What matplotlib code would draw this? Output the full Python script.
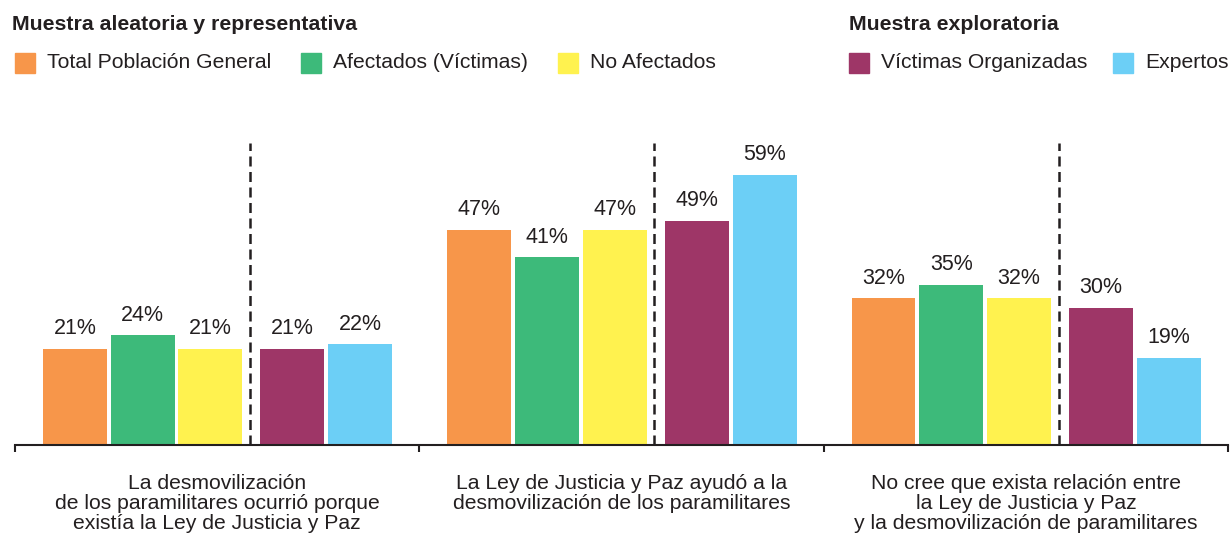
import matplotlib
matplotlib.use('Agg')
import matplotlib.pyplot as plt
from matplotlib.patches import Rectangle
import numpy as np

plt.rcParams['font.family'] = ['Liberation Sans', 'DejaVu Sans']

categories = [
    'La desmovilización\nde los paramilitares ocurrió porque\nexistía la Ley de Justicia y Paz',
    'La Ley de Justicia y Paz ayudó a la\ndesmovilización de los paramilitares',
    'No cree que exista relación entre\nla Ley de Justicia y Paz\ny la desmovilización de paramilitares',
]
series = ['Total Población General', 'Afectados (Víctimas)', 'No Afectados',
          'Víctimas Organizadas', 'Expertos']
total_general = [21, 47, 32]
afectados = [24, 41, 35]
no_afectados = [21, 47, 32]
victimas_org = [21, 49, 30]
expertos = [22, 59, 19]
values = [total_general, afectados, no_afectados, victimas_org, expertos]
colors = ['#F7964A', '#3DBA7A', '#FFF24F', '#9E3667', '#6CCFF6']
text_color = '#231F20'

W, H = 1230, 534
fig = plt.figure(figsize=(W / 100, H / 100), dpi=100)
px_per_pct = 4.58
ax = fig.add_axes([15 / W, (H - 445) / H, 1213 / W, 302 / H])
ymax = 302 / px_per_pct

x = np.arange(len(categories))
offsets = [-0.352, -0.184, -0.017, 0.186, 0.354]
width = 0.158
for i in range(len(series)):
    ax.bar(x + offsets[i], values[i], width=width, color=colors[i])
    for xi, v in zip(x, values[i]):
        ax.text(xi + offsets[i], v + 14.5 / px_per_pct, f'{v}%', ha='center',
                va='baseline', fontsize=15.5, color=text_color)

# separador entre muestras
ax.vlines(x + 0.081, 0, ymax, colors=text_color, linewidth=1.8,
          linestyles=(0, (4, 2.2)))

ax.set_xlim(-0.5, 2.5)
ax.set_ylim(0, ymax)
for s in ['top', 'left', 'right']:
    ax.spines[s].set_visible(False)
ax.spines['bottom'].set_color(text_color)
ax.spines['bottom'].set_linewidth(1.5)
ax.set_yticks([])
ax.set_xticks([-0.5, 0.5, 1.5, 2.5])
ax.set_xticklabels([])
ax.tick_params(axis='x', length=5, width=1.5, color=text_color)

for xi, c in zip(x, categories):
    ax.text(xi, -29 / 302, c, transform=ax.get_xaxis_transform(), ha='center',
            va='top', fontsize=15.2, color=text_color, linespacing=1.07)

# títulos y leyenda
fig.text(12 / W, 1 - 24 / H, 'Muestra aleatoria y representativa', fontsize=15.3,
         fontweight='bold', va='center', color=text_color)
fig.text(849 / W, 1 - 24 / H, 'Muestra exploratoria', fontsize=15.3,
         fontweight='bold', va='center', color=text_color)
legend_x = [15, 301, 558, 849, 1113]
for lx, name, col in zip(legend_x, series, colors):
    fig.patches.append(Rectangle((lx / W, 1 - 73 / H), 20 / W, 20 / H,
                                 transform=fig.transFigure, color=col))
    fig.text((lx + 32) / W, 1 - 63 / H, name, fontsize=15.2, va='center',
             color=text_color)

fig.savefig('out.png', dpi=100)
